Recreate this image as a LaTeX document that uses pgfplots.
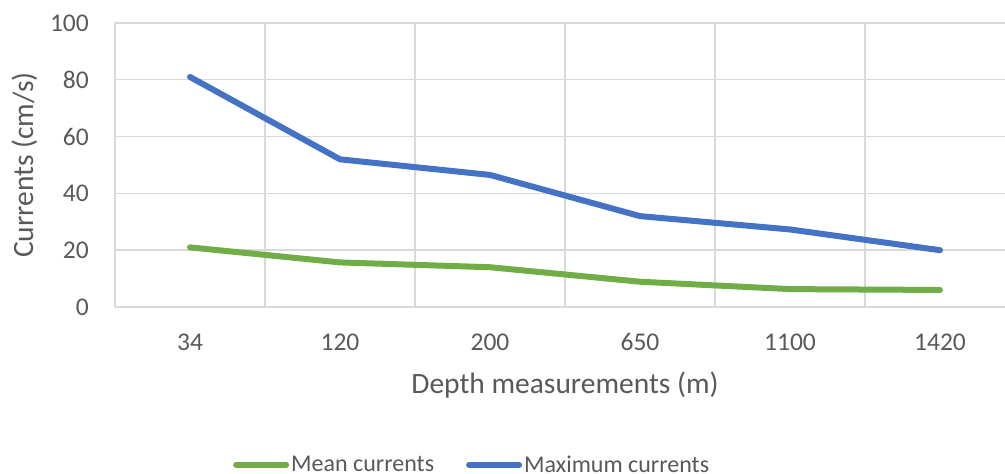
\documentclass[border=0pt]{standalone}
\usepackage{pgfplots}
\pgfplotsset{compat=1.18}
\usepackage{fontspec}
\setmainfont{Carlito}
\definecolor{gridgray}{HTML}{D9D9D9}
\definecolor{txtgray}{HTML}{595959}
\definecolor{xlblue}{HTML}{4472C4}
\definecolor{xlgreen}{HTML}{70AD47}
\begin{document}
\begin{tikzpicture}
\path[use as bounding box] (0,0) rectangle (1005pt,474pt);
\begin{axis}[
  at={(115pt,167pt)}, anchor=south west,
  scale only axis, width=890pt, height=284pt,
  xmin=-0.5, xmax=5.4333, ymin=0, ymax=100,
  xtick={0,1,2,3,4,5},
  xticklabels={34,120,200,650,1100,1420},
  minor xtick={-0.5,0.5,1.5,2.5,3.5,4.5},
  ytick={0,20,40,60,80,100},
  xminorgrids=true, ymajorgrids=true, xmajorgrids=false,
  grid style={draw=gridgray, line width=1.4pt},
  minor grid style={draw=gridgray, line width=1.4pt},
  axis line style={draw=none},
  major tick length=0pt, minor tick length=0pt,
  tick style={draw=none},
  /pgf/number format/assume math mode=true,
  ticklabel style={font=\fontsize{25.5}{30}\selectfont, text=txtgray, inner sep=0pt},
  yticklabel style={anchor=east, xshift=-26pt},
  xticklabel style={anchor=base, yshift=-44pt},
  xlabel={Depth measurements (m)},
  ylabel={Currents (cm/s)},
  label style={font=\fontsize{29.5}{34}\selectfont, text=txtgray, inner sep=0pt},
  xlabel style={at={(axis description cs:0.5056,-0.306)}, anchor=base},
  ylabel style={at={(axis description cs:-0.0921,0.5)}, anchor=base, rotate=0},
  legend columns=2,
  legend style={at={(axis description cs:0.1326,-0.556)}, anchor=west, draw=none, fill=none,
    font=\fontsize{24}{28}\selectfont, text=txtgray, inner sep=0pt,
    /tikz/every even column/.append style={column sep=30pt},
    nodes={inner sep=2pt}},
  legend image code/.code={\draw[#1, line cap=round] (0pt,0pt) -- (50pt,0pt);},
]
\addplot[xlgreen, line width=6pt, line join=round, line cap=round] coordinates {
  (0,21) (1,15.7) (2,14) (3,8.9) (4,6.3) (5,6)};
\addlegendentry{Mean currents}
\addplot[xlblue, line width=6pt, line join=round, line cap=round] coordinates {
  (0,81) (1,52) (2,46.5) (3,32) (4,27.3) (5,20)};
\addlegendentry{Maximum currents}
\end{axis}
\end{tikzpicture}
\end{document}
